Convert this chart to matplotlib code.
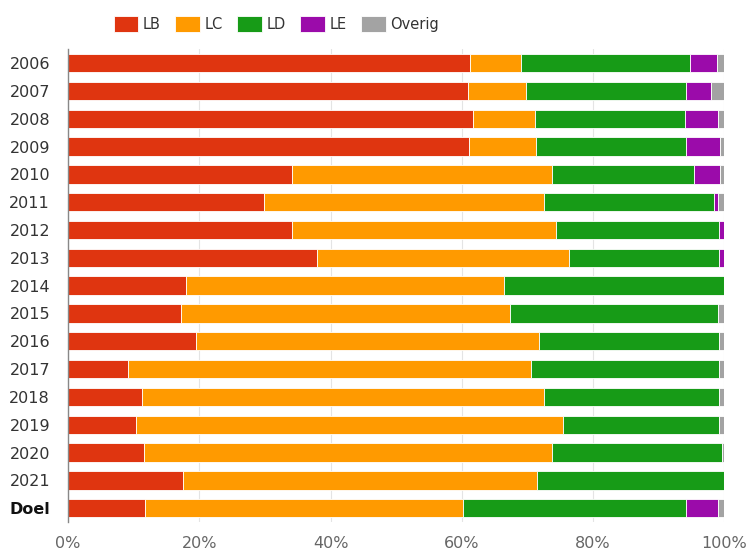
import matplotlib.pyplot as plt
import numpy as np

categories = ['2006', '2007', '2008', '2009', '2010', '2011', '2012', '2013',
              '2014', '2015', '2016', '2017', '2018', '2019', '2020', '2021', 'Doel']
labels = ['LB', 'LC', 'LD', 'LE', 'Overig']
lb = [61.3, 61.0, 61.7, 61.1, 34.1, 29.8, 34.1, 37.9, 18.0, 17.2, 19.5, 9.1, 11.3, 10.4, 11.5, 17.5, 11.7]
lc = [7.7, 8.8, 9.4, 10.2, 39.6, 42.7, 40.3, 38.5, 48.4, 50.1, 52.2, 61.4, 61.2, 65.0, 62.2, 54.0, 48.5]
ld = [25.8, 24.4, 22.9, 22.9, 21.7, 25.9, 24.8, 22.8, 33.6, 31.8, 27.5, 28.7, 26.7, 23.8, 25.9, 28.5, 33.9]
le = [4.1, 3.8, 5.1, 5.1, 3.9, 0.7, 0.8, 0.8, 0.0, 0.0, 0.0, 0.0, 0.0, 0.0, 0.0, 0.0, 5.0]
overig = [1.1, 2.0, 0.9, 0.7, 0.7, 0.9, 0.0, 0.0, 0.0, 0.9, 0.8, 0.8, 0.8, 0.8, 0.4, 0.0, 0.9]

colors = ['#DF3510', '#FF9A00', '#179B17', '#9B0BAA', '#A3A3A3']

fig = plt.figure(figsize=(7.49, 5.52), dpi=100)
ax = fig.add_axes([0.091, 0.054, 0.876, 0.857])

y = np.arange(len(categories))
left = np.zeros(len(categories))
for i, vals in enumerate([lb, lc, ld, le, overig]):
	vals = np.array(vals)
	ax.barh(y, vals, left=left, height=0.66, color=colors[i], label=labels[i],
			edgecolor='white', linewidth=0.6, zorder=2)
	left = left + vals

ax.set_xlim(0, 100)
ax.set_ylim(len(categories) - 0.5, -0.5)
ax.set_yticks(y)
ax.set_yticklabels(categories, fontsize=11.5, color='#333333')
ax.get_yticklabels()[-1].set_fontweight('bold')
ax.get_yticklabels()[-1].set_color('#111111')
ax.set_xticks([0, 20, 40, 60, 80, 100])
ax.set_xticklabels(['0%', '20%', '40%', '60%', '80%', '100%'], fontsize=11.5, color='#666666')
ax.tick_params(axis='both', length=0)
ax.tick_params(axis='x', pad=10)
ax.tick_params(axis='y', pad=13)
ax.grid(axis='x', color='#e4e4e4', linewidth=0.8, zorder=0)

for s in ['top', 'right', 'bottom']:
	ax.spines[s].set_visible(False)
ax.spines['left'].set_color('#888888')
ax.spines['left'].set_linewidth(1.0)

fig.legend(loc='center', bbox_to_anchor=(0.369, 0.956), ncol=5, frameon=False,
		   fontsize=10.5, handlelength=1.7, handleheight=1.35, columnspacing=1.0,
		   handletextpad=0.3, labelcolor='#333333')

fig.savefig('out.png', dpi=100)
